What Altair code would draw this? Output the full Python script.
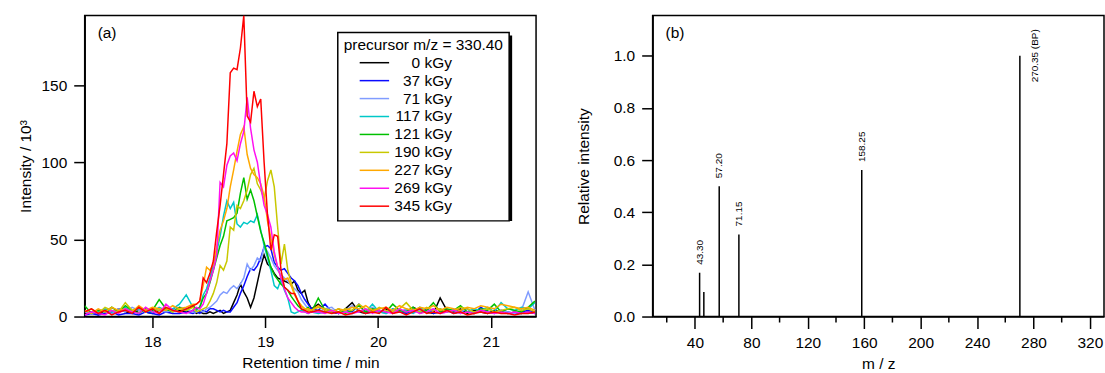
import altair as alt
import pandas as pd

# ---------------- panel (a) data ----------------
t_a = [17.40, 17.46, 17.52, 17.58, 17.64, 17.70, 17.76, 17.82, 17.88, 17.94, 18.00, 18.06,
       18.12, 18.18, 18.24, 18.30, 18.36]
t_b = [18.39, 18.42, 18.45, 18.48, 18.51, 18.54, 18.57, 18.60, 18.63, 18.66, 18.69, 18.72,
       18.75, 18.78, 18.81, 18.84, 18.87, 18.90, 18.93, 18.96, 18.99, 19.02, 19.05, 19.08,
       19.11, 19.14, 19.17, 19.20, 19.23, 19.26, 19.29, 19.32, 19.35, 19.38, 19.41]
t_c = [19.47, 19.53, 19.59, 19.65, 19.71, 19.77, 19.83, 19.89, 19.95, 20.01, 20.07, 20.13,
       20.19, 20.25, 20.31, 20.37, 20.43, 20.49, 20.55, 20.61, 20.67, 20.73, 20.79, 20.85,
       20.91, 20.97, 21.03, 21.09, 21.15, 21.21, 21.27, 21.33, 21.39]
time = t_a + t_b + t_c

dose_labels = ["0 kGy", "37 kGy", "71 kGy", "117 kGy", "121 kGy",
               "190 kGy", "227 kGy", "269 kGy", "345 kGy"]
dose_colors = ["#000000", "#0a0aff", "#809cff", "#00c8c8", "#00c000",
               "#c8c800", "#ffa800", "#ff10f0", "#ff0000"]

i_0 = [2, 3, 1, 4, 2, 5, 3, 2, 4, 3, 2, 4, 3, 5, 4, 3, 4,
       2, 3, 2, 2, 3, 2, 3, 4, 2, 3, 4, 9, 14, 21, 16, 12, 6, 12, 22, 32, 40, 34, 32, 28, 25,
       24, 23, 22, 21, 23, 17, 15, 17, 9, 5,
       8, 4, 3, 2, 5, 9, 3, 2, 4, 3, 5, 2, 4, 3, 6, 4, 3, 2, 12, 4, 3, 5, 2, 4, 3, 2, 4, 3,
       2, 3, 2, 3, 2]
i_37 = [1, 2, 1, 2, 3, 1, 2, 2, 1, 3, 2, 1, 3, 2, 2, 3, 2,
        3, 2, 4, 3, 5, 5, 4, 3, 4, 3, 3, 6, 9, 15, 20, 26, 31, 30, 33, 38, 45, 46, 44, 35, 32,
        30, 31, 28, 25, 23, 20, 15, 11, 8, 5,
        4, 8, 3, 2, 4, 3, 8, 2, 3, 4, 2, 5, 3, 2, 4, 3, 5, 2, 3, 4, 2, 3, 5, 2, 6, 3, 2, 4, 3,
        2, 3, 4, 3]
i_71 = [3, 2, 4, 3, 2, 5, 3, 6, 4, 3, 5, 4, 3, 4, 6, 5, 3,
        3, 4, 3, 5, 6, 8, 10, 14, 16, 15, 18, 20, 18, 21, 25, 34, 30, 33, 38, 36, 45, 42, 38,
        33, 30, 27, 25, 23, 20, 18, 16, 11, 8, 5, 4,
        3, 5, 6, 2, 4, 7, 3, 4, 6, 3, 2, 4, 3, 5, 2, 4, 3, 5, 2, 3, 4, 3, 5, 2, 4, 3, 2, 4, 3,
        2, 4, 16, 4]
i_117 = [4, 2, 3, 5, 3, 4, 6, 3, 5, 4, 3, 6, 4, 5, 8, 14, 6,
         4, 6, 14, 18, 25, 34, 42, 52, 65, 75, 70, 74, 60, 58, 61, 60, 62, 61, 66, 56, 46, 38,
         30, 20, 18, 24, 17, 12, 3, 2, 3, 4, 3, 2, 3,
         2, 3, 4, 2, 3, 2, 4, 3, 8, 3, 2, 5, 3, 4, 2, 6, 3, 4, 5, 3, 4, 2, 3, 5, 4, 6, 3, 9, 5,
         4, 6, 5, 9]
i_121 = [7, 2, 4, 3, 6, 3, 7, 4, 2, 5, 4, 11, 5, 3, 6, 4, 7,
         5, 6, 12, 15, 22, 30, 38, 46, 52, 62, 63, 64, 67, 80, 90, 76, 82, 75, 65, 55, 48, 40,
         32, 27, 24, 21, 19, 17, 13, 10, 7, 5, 4, 6, 3,
         12, 4, 3, 5, 2, 4, 7, 3, 5, 4, 3, 8, 4, 3, 6, 2, 4, 9, 3, 5, 4, 7, 3, 2, 5, 4, 8, 3,
         5, 4, 3, 6, 10]
i_190 = [3, 5, 2, 6, 4, 3, 9, 4, 6, 3, 5, 4, 6, 3, 5, 4, 6,
         3, 4, 5, 6, 10, 15, 22, 33, 30, 36, 58, 56, 72, 70, 75, 82, 92, 96, 86, 82, 76, 88,
         95, 84, 58, 34, 47, 30, 22, 15, 10, 7, 5, 4, 4,
         6, 5, 4, 3, 5, 4, 8, 5, 3, 6, 4, 3, 5, 9, 4, 3, 6, 4, 5, 3, 4, 6, 5, 3, 4, 5, 3, 4, 5,
         6, 4, 5, 3]
i_227 = [4, 2, 5, 3, 6, 4, 5, 3, 7, 4, 6, 5, 4, 7, 5, 6, 8,
         8, 10, 20, 32, 30, 34, 45, 56, 62, 70, 84, 95, 107, 118, 123, 105, 96, 92, 90, 86,
         78, 62, 51, 40, 32, 25, 24, 25, 20, 14, 10, 7, 5, 5, 4,
         7, 4, 3, 5, 4, 6, 5, 7, 4, 5, 6, 4, 7, 5, 4, 6, 5, 7, 4, 6, 5, 4, 6, 5, 7, 6, 5, 8, 7,
         6, 5, 6, 4]
i_269 = [1, 3, 2, 1, 4, 2, 5, 3, 2, 6, 3, 2, 8, 4, 3, 2, 4,
         6, 5, 8, 15, 23, 30, 40, 87, 84, 98, 104, 106, 101, 112, 120, 142, 122, 108, 100, 85,
         72, 66, 58, 42, 32, 25, 18, 12, 9, 6, 4, 3, 3, 2, 3,
         3, 2, 4, 2, 3, 2, 3, 5, 2, 4, 3, 2, 5, 3, 4, 2, 3, 5, 2, 3, 4, 2, 3, 2, 4, 3, 2, 3, 2,
         3, 2, 3, 2]
i_345 = [3, 5, 2, 4, 1, 3, 4, 2, 6, 3, 5, 2, 6, 4, 3, 5, 7,
         8, 10, 25, 22, 28, 36, 55, 72, 92, 112, 158, 161, 160, 174, 195, 130, 126, 146, 136,
         141, 100, 66, 43, 53, 52, 30, 19, 17, 15, 15, 10, 5, 4, 3, 3,
         4, 3, 2, 3, 1, 2, 4, 2, 3, 2, 6, 2, 3, 1, 3, 5, 2, 3, 2, 4, 2, 3, 1, 2, 3, 2, 3, 2, 2,
         1, 2, 2, 3]
series = [i_0, i_37, i_71, i_117, i_121, i_190, i_227, i_269, i_345]

rows = []
for k, (lab, vals) in enumerate(zip(dose_labels, series)):
    for tt, vv in zip(time, vals):
        rows.append({"t": tt, "v": vv, "dose": lab, "k": k})
df_a = pd.DataFrame(rows)

# ---------------- panel (b) data ----------------
mz = [43.30, 46.3, 57.20, 71.15, 158.25, 270.35]
rel = [0.168, 0.094, 0.500, 0.315, 0.562, 1.0]
peak_text = ["43.30", "", "57.20", "71.15", "158.25", "270.35 (BP)"]
peak_kind = ["frag", "none", "frag", "frag", "frag", "bp"]
df_b = pd.DataFrame({"mz": mz, "rel": rel, "lab": peak_text, "kind": peak_kind})

major_mz = [40, 80, 120, 160, 200, 240, 280, 320]
minor_mz = [20, 60, 100, 140, 180, 220, 260, 300]

FONT = "Liberation Sans"
FS = 15.5
W, H = 453, 302

# ---------------- panel (a) ----------------
xa = alt.X("t:Q", scale=alt.Scale(domain=[17.4, 21.4], nice=False, zero=False),
           axis=alt.Axis(values=[18, 19, 20, 21], format="d", title="Retention time / min",
                         labelFlush=False))
ya = alt.Y("v:Q", scale=alt.Scale(domain=[0, 195], nice=False),
           axis=alt.Axis(values=[0, 50, 100, 150], title="Intensity / 10\u00b3", titlePadding=8))

lines = alt.Chart(df_a).mark_line(strokeWidth=1.5, clip=True).encode(
    x=xa, y=ya,
    color=alt.Color("dose:N", sort=dose_labels,
                    scale=alt.Scale(domain=dose_labels, range=dose_colors),
                    legend=alt.Legend(title="precursor m/z = 330.40", orient="none",
                                      legendX=254, legendY=17,
                                      symbolType="M-3,0H3", symbolSize=97,
                                      symbolStrokeWidth=1.5, symbolOffset=23,
                                      labelAlign="right", labelOffset=70,
                                      labelFontSize=FS, titleFontSize=FS,
                                      titleFontWeight="normal", labelFont=FONT,
                                      titleFont=FONT, titleColor="black", labelColor="black",
                                      padding=6, rowPadding=1, titlePadding=1,
                                      strokeColor="black", fillColor="white")),
    order=alt.Order("t:Q"),
)

shadow = alt.Chart(pd.DataFrame({"s": [0]})).mark_rect(color="black").encode(
    x=alt.value(257), x2=alt.value(429), y=alt.value(20), y2=alt.value(206))

tag_a = alt.Chart(pd.DataFrame({"s": ["(a)"]})).mark_text(
    align="left", baseline="middle", fontSize=FS, font=FONT, color="black").encode(
    x=alt.value(13), y=alt.value(17), text="s:N")

left = alt.layer(shadow, lines, tag_a).properties(width=W, height=H)

# ---------------- panel (b) ----------------
xscale_b = alt.Scale(domain=[10, 330], nice=False, zero=False)
xb = alt.X("mz:Q", scale=xscale_b,
           axis=alt.Axis(values=major_mz, title="m / z", labelFlush=False, tickSize=12))
yb = alt.Y("rel:Q", scale=alt.Scale(domain=[0, 1.154], nice=False),
           axis=alt.Axis(values=[0, 0.2, 0.4, 0.6, 0.8, 1.0], format=".1f",
                         title="Relative intensity", titlePadding=22))

sticks = alt.Chart(df_b).mark_rule(strokeWidth=1.5, color="black").encode(
    x=xb, y=yb, y2=alt.datum(0))

minor_ticks = alt.Chart(pd.DataFrame({"mz": minor_mz})).mark_rule(
    strokeWidth=1.5, color="black", clip=False).encode(
    x=alt.X("mz:Q", scale=xscale_b), y=alt.value(H), y2=alt.value(H + 6))

frag_txt = alt.Chart(df_b).transform_filter("datum.kind == 'frag'").mark_text(
    angle=270, align="left", baseline="middle", dx=8, fontSize=10, font=FONT,
    color="black").encode(x="mz:Q", y="rel:Q", text="lab:N")

bp_txt = alt.Chart(df_b).transform_filter("datum.kind == 'bp'").mark_text(
    angle=270, align="center", baseline="middle", dy=15, fontSize=10, font=FONT,
    color="black").encode(x="mz:Q", y="rel:Q", text="lab:N")

tag_b = alt.Chart(pd.DataFrame({"s": ["(b)"]})).mark_text(
    align="left", baseline="middle", fontSize=FS, font=FONT, color="black").encode(
    x=alt.value(13), y=alt.value(17), text="s:N")

right = alt.layer(sticks, minor_ticks, frag_txt, bp_txt, tag_b).properties(width=W, height=H)

chart = alt.hconcat(left, right, spacing=38).configure(
    padding={"left": 17, "top": 14, "right": 0, "bottom": 0},
    font=FONT,
).configure_view(stroke="black", strokeWidth=1.5).configure_axis(
    grid=False, domainColor="black", domainWidth=1.5, tickColor="black", tickWidth=1.5,
    tickSize=11, labelFont=FONT, labelFontSize=FS, labelColor="black", labelPadding=7,
    titleFont=FONT, titleFontSize=FS, titleFontWeight="normal", titleColor="black",
    titlePadding=6,
).configure_legend(strokeWidth=1.5)

chart.save("out.html", embed_options={"renderer": "svg", "actions": False})
